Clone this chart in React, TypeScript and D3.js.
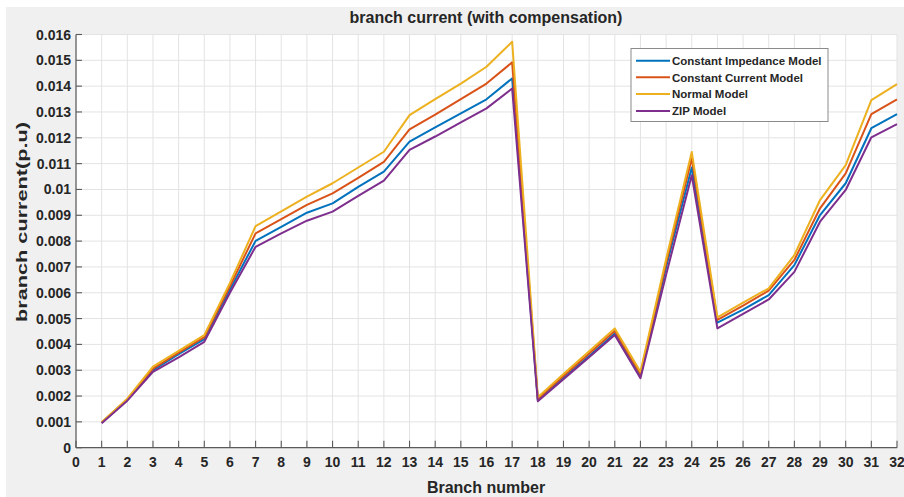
import React from "react";
import * as d3 from "d3";

const branches = d3.range(1, 33);
const xTicks = d3.range(0, 33);
const yTicks = d3.range(0, 0.0161, 0.001);
const yTickLabels = ["0", "0.001", "0.002", "0.003", "0.004", "0.005", "0.006", "0.007", "0.008", "0.009", "0.01", "0.011", "0.012", "0.013", "0.014", "0.015", "0.016"];

const seriesNames = ["Constant Impedance Model", "Constant Current Model", "Normal Model", "ZIP Model"];
const seriesColors = ["#0072BD", "#D95319", "#EDB120", "#7E2F8E"];

const impedance = [0.00097, 0.00186, 0.00300, 0.00362, 0.00420, 0.00612, 0.00801, 0.00855, 0.00910, 0.00946, 0.01010, 0.01069, 0.01185, 0.01240, 0.01295, 0.01349, 0.01430, 0.00185, 0.00270, 0.00355, 0.00442, 0.00278, 0.00700, 0.01085, 0.00484, 0.00535, 0.00591, 0.00707, 0.00901, 0.01024, 0.01237, 0.01292];
const current = [0.00098, 0.00188, 0.00306, 0.00368, 0.00428, 0.00625, 0.00830, 0.00885, 0.00940, 0.00985, 0.01045, 0.01107, 0.01233, 0.01290, 0.01350, 0.01410, 0.01492, 0.00190, 0.00278, 0.00365, 0.00452, 0.00285, 0.00715, 0.01120, 0.00495, 0.00550, 0.00608, 0.00727, 0.00927, 0.01062, 0.01292, 0.01349];
const normal = [0.00099, 0.00190, 0.00314, 0.00375, 0.00436, 0.00638, 0.00858, 0.00915, 0.00972, 0.01024, 0.01085, 0.01146, 0.01288, 0.01350, 0.01410, 0.01475, 0.01572, 0.00195, 0.00285, 0.00373, 0.00462, 0.00294, 0.00730, 0.01145, 0.00505, 0.00562, 0.00617, 0.00746, 0.00959, 0.01094, 0.01346, 0.01408];
const zip = [0.00095, 0.00182, 0.00294, 0.00350, 0.00410, 0.00600, 0.00778, 0.00830, 0.00879, 0.00914, 0.00975, 0.01034, 0.01153, 0.01205, 0.01260, 0.01314, 0.01391, 0.00180, 0.00265, 0.00350, 0.00436, 0.00269, 0.00670, 0.01055, 0.00462, 0.00518, 0.00574, 0.00681, 0.00875, 0.00998, 0.01202, 0.01253];

const allSeries = [impedance, current, normal, zip];

const W = 904;
const H = 497;
const left = 76;
const right = 897;
const top = 34.5;
const bottom = 447.7;

export default function App() {
  const x = d3.scaleLinear().domain([0, 32]).range([left, right]);
  const y = d3.scaleLinear().domain([0, 0.016]).range([bottom, top]);
  const line = d3
    .line<number>()
    .x((_, i) => x(branches[i]))
    .y((d) => y(d));

  const font = "'Liberation Sans', Arial, sans-serif";
  const textColor = "#262626";
  const axisColor = "#5a5a5a";

  const legX = 631;
  const legY = 48.5;
  const legW = 197;
  const legH = 73;
  const rowYs = [60.7, 77.2, 94, 111];

  return (
    <div style={{ position: "absolute", left: 0, top: 0 }}>
      <svg width={W} height={H} style={{ display: "block" }} fontFamily={font}>
        <rect x={0} y={0} width={W} height={H} fill="#ffffff" />
        <rect x={6} y={7} width={W - 6} height={H - 7} fill="#f0f0f0" />
        <rect x={left} y={top} width={right - left} height={bottom - top} fill="#ffffff" />
        {/* grid */}
        {xTicks.map((t) => (
          <line key={"gx" + t} x1={x(t)} x2={x(t)} y1={top} y2={bottom} stroke="#e3e3e3" strokeWidth={1} />
        ))}
        {yTicks.map((t, i) => (
          <line key={"gy" + i} x1={left} x2={right} y1={y(t)} y2={y(t)} stroke="#e3e3e3" strokeWidth={1} />
        ))}
        {/* axes */}
        <line x1={left} x2={left} y1={top} y2={bottom} stroke={axisColor} strokeWidth={1.2} />
        <line x1={left} x2={right} y1={bottom} y2={bottom} stroke={axisColor} strokeWidth={1.2} />
        {xTicks.map((t) => (
          <line key={"tx" + t} x1={x(t)} x2={x(t)} y1={bottom} y2={bottom - 7} stroke={axisColor} strokeWidth={1.1} />
        ))}
        {yTicks.map((t, i) => (
          <line key={"ty" + i} x1={left} x2={left + 6} y1={y(t)} y2={y(t)} stroke={axisColor} strokeWidth={1.1} />
        ))}
        {/* tick labels */}
        {xTicks.map((t) => (
          <text key={"lx" + t} x={x(t)} y={bottom + 19.5} textAnchor="middle" fontSize={14} fontWeight="bold" fill={textColor}>
            {t}
          </text>
        ))}
        {yTicks.map((t, i) => (
          <text key={"ly" + i} x={left - 5} y={y(t) + 5} textAnchor="end" fontSize={14} fontWeight="bold" fill={textColor}>
            {yTickLabels[i]}
          </text>
        ))}
        {/* series */}
        {allSeries.map((s, i) => (
          <path key={"s" + i} d={line(s) || ""} fill="none" stroke={seriesColors[i]} strokeWidth={2} strokeLinejoin="round" />
        ))}
        {/* title & labels */}
        <text x={486} y={23} textAnchor="middle" fontSize={16} fontWeight="bold" fill={textColor}>
          branch current (with compensation)
        </text>
        <text x={486} y={493} textAnchor="middle" fontSize={16} fontWeight="bold" fill={textColor}>
          Branch number
        </text>
        <text
          transform={`translate(27, 222) rotate(-90)`}
          textAnchor="middle"
          fontSize={15}
          fontWeight="bold"
          fill={textColor}
          textLength={200}
          lengthAdjust="spacingAndGlyphs"
        >
          branch current(p.u)
        </text>
        {/* legend */}
        <rect x={legX} y={legY} width={legW} height={legH} fill="#ffffff" stroke="#8a8a8a" strokeWidth={1} />
        {seriesNames.map((n, i) => (
          <g key={"lg" + i}>
            <line x1={636} x2={670} y1={rowYs[i]} y2={rowYs[i]} stroke={seriesColors[i]} strokeWidth={2} />
            <text x={672} y={rowYs[i] + 4.3} fontSize={11.5} fontWeight="bold" fill={textColor}>
              {n}
            </text>
          </g>
        ))}
      </svg>
    </div>
  );
}
